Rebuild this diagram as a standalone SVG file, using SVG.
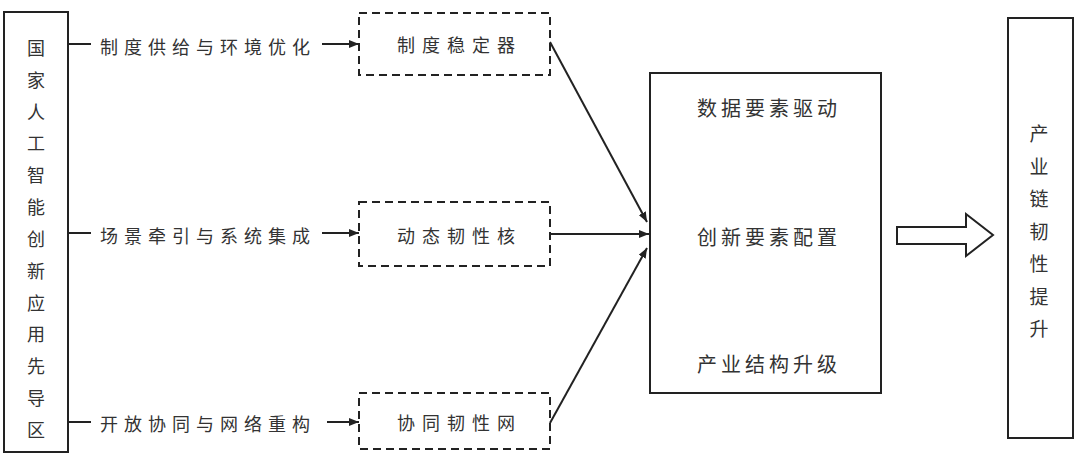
<svg xmlns="http://www.w3.org/2000/svg" width="1077" height="456" viewBox="0 0 1077 456">
<style>
.box{fill:#fff;stroke:#222;stroke-width:2}
.dash{fill:#fff;stroke:#222;stroke-width:2;stroke-dasharray:8 5}
.ln{fill:none;stroke:#222;stroke-width:2}
text{font-family:"Noto Sans CJK SC","Noto Sans CJK JP",sans-serif;fill:#333;dominant-baseline:central}
.lbl{font-size:18px;letter-spacing:6px}
.bt{font-size:18px;letter-spacing:7px}
.ct{font-size:20px;letter-spacing:4px}
.vt{font-size:18px;text-anchor:middle}
.vr{font-size:19px;text-anchor:middle}
</style>
<defs>
<marker id="ah" viewBox="0 0 10 8" refX="10" refY="4" markerWidth="10" markerHeight="8" markerUnits="userSpaceOnUse" orient="auto">
<path d="M0,0 L10,4 L0,8 Z" fill="#222"/>
</marker>
</defs>
<rect width="1077" height="456" fill="#fff"/>

<g id="node-pilot-zone">
<rect class="box" x="4" y="12" width="64" height="440"/>
<text class="vt" x="36" y="47">国</text>
<text class="vt" x="36" y="79">家</text>
<text class="vt" x="36" y="111">人</text>
<text class="vt" x="36" y="142">工</text>
<text class="vt" x="36" y="174">智</text>
<text class="vt" x="36" y="206">能</text>
<text class="vt" x="36" y="238">创</text>
<text class="vt" x="36" y="270">新</text>
<text class="vt" x="36" y="302">应</text>
<text class="vt" x="36" y="333">用</text>
<text class="vt" x="36" y="365">先</text>
<text class="vt" x="36" y="397">导</text>
<text class="vt" x="36" y="429">区</text>
</g>

<g id="label-1"><text class="lbl" x="100" y="46">制度供给与环境优化</text></g>
<g id="label-2"><text class="lbl" x="100" y="235">场景牵引与系统集成</text></g>
<g id="label-3"><text class="lbl" x="100" y="423">开放协同与网络重构</text></g>

<g id="node-stabilizer">
<rect class="dash" x="359" y="13" width="191" height="62"/>
<text class="bt" x="397" y="44">制度稳定器</text>
</g>
<g id="node-core">
<rect class="dash" x="359" y="202" width="191" height="64"/>
<text class="bt" x="397" y="235">动态韧性核</text>
</g>
<g id="node-network">
<rect class="dash" x="359" y="393" width="191" height="56"/>
<text class="bt" x="397" y="422">协同韧性网</text>
</g>

<g id="node-center">
<rect class="box" x="650" y="73" width="231" height="320"/>
<text class="ct" x="697" y="107">数据要素驱动</text>
<text class="ct" x="697" y="236">创新要素配置</text>
<text class="ct" x="697" y="363">产业结构升级</text>
</g>

<g id="node-result">
<rect class="box" x="1008" y="18" width="65" height="420"/>
<text class="vr" x="1039" y="132">产</text>
<text class="vr" x="1039" y="165">业</text>
<text class="vr" x="1039" y="197">链</text>
<text class="vr" x="1039" y="230">韧</text>
<text class="vr" x="1039" y="262">性</text>
<text class="vr" x="1039" y="295">提</text>
<text class="vr" x="1039" y="327">升</text>
</g>

<g id="connectors">
<line class="ln" x1="68" y1="44" x2="91" y2="44"/>
<line class="ln" x1="68" y1="233" x2="91" y2="233"/>
<line class="ln" x1="68" y1="422" x2="91" y2="422"/>
<line class="ln" x1="322" y1="44" x2="359" y2="44" marker-end="url(#ah)"/>
<line class="ln" x1="322" y1="233" x2="359" y2="233" marker-end="url(#ah)"/>
<line class="ln" x1="327" y1="422" x2="359" y2="422" marker-end="url(#ah)"/>
<line class="ln" x1="550" y1="42" x2="647" y2="222" marker-end="url(#ah)"/>
<line class="ln" x1="550" y1="234" x2="649" y2="234" marker-end="url(#ah)"/>
<line class="ln" x1="550" y1="423" x2="647" y2="248" marker-end="url(#ah)"/>
<path class="box" d="M897,227 L966,227 L966,214 L993,235 L966,256 L966,244 L897,244 Z"/>
</g>
</svg>
